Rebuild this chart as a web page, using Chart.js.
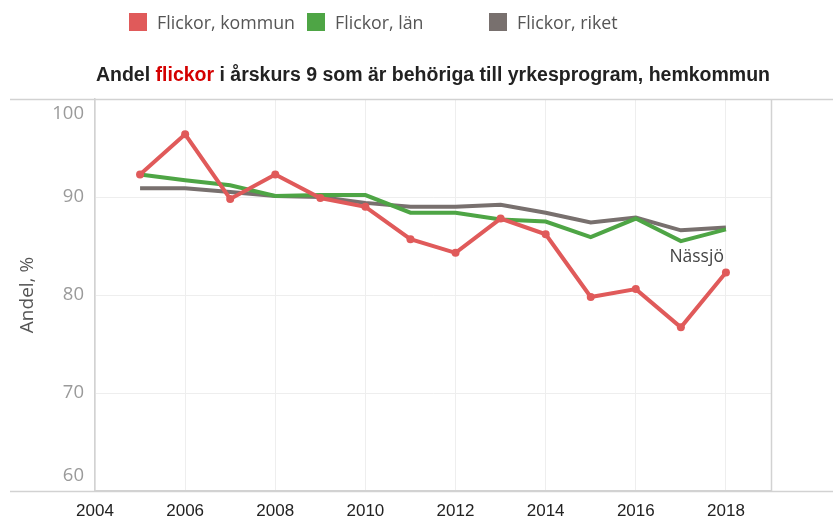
<!DOCTYPE html>
<html>
<head>
<meta charset="utf-8">
<script src="https://cdn.jsdelivr.net/npm/chart.js@4/dist/chart.umd.min.js"></script>
<style>
  html, body { margin: 0; padding: 0; background: #fff; }
  #wrap { position: relative; width: 833px; height: 522px; overflow: hidden; }
  #c { position: absolute; left: 0; top: 0; }
  .leg { position: absolute; top: 12px; font-family: "Open Sans", sans-serif; font-size: 17.8px; color: #555; line-height: 20px; white-space: nowrap; }
  .leg i { display: inline-block; width: 18px; height: 18px; vertical-align: top; margin-top: 1px; margin-right: 10px; }
  #title { position: absolute; left: 95px; width: 676px; top: 63px; text-align: center; font-family: "Liberation Sans", Arial, sans-serif; font-weight: bold; font-size: 19.5px; color: #222; white-space: nowrap; }
  #title span { color: #d40000; }
</style>
</head>
<body>
<div id="wrap">
  <canvas id="c" width="833" height="522"></canvas>
  <div class="leg" style="left:129px"><i style="background:#e05a5a"></i>Flickor, kommun</div>
  <div class="leg" style="left:307px"><i style="background:#4ea545"></i>Flickor, län</div>
  <div class="leg" style="left:489px"><i style="background:#78706e"></i>Flickor, riket</div>
  <div id="title">Andel <span>flickor</span> i årskurs 9 som är behöriga till yrkesprogram, hemkommun</div>
</div>
<script>
const years = [2005, 2006, 2007, 2008, 2009, 2010, 2011, 2012, 2013, 2014, 2015, 2016, 2017, 2018];
const kommun = [92.3, 96.4, 89.8, 92.3, 89.9, 89.0, 85.7, 84.3, 87.8, 86.2, 79.8, 80.6, 76.7, 82.3];
const lan    = [92.3, 91.7, 91.2, 90.1, 90.2, 90.2, 88.4, 88.4, 87.7, 87.5, 85.9, 87.8, 85.5, 86.7];
const riket  = [90.9, 90.9, 90.5, 90.1, 90.0, 89.4, 89.0, 89.0, 89.2, 88.4, 87.4, 87.9, 86.6, 86.9];
const xTicks = [2004, 2006, 2008, 2010, 2012, 2014, 2016, 2018];
const yTicks = [60, 70, 80, 90, 100];

const toXY = arr => arr.map((v, i) => ({ x: years[i], y: v }));

const framePlugin = {
  id: 'frame',
  afterDraw(chart) {
    const { ctx, chartArea: a } = chart;
    ctx.save();
    ctx.strokeStyle = '#d2d2d2';
    ctx.lineWidth = 1.5;
    ctx.beginPath();
    ctx.moveTo(10, a.top + 0.5); ctx.lineTo(833, a.top + 0.5);
    ctx.moveTo(10, a.bottom + 0.5); ctx.lineTo(833, a.bottom + 0.5);
    ctx.moveTo(a.right + 0.5, a.top); ctx.lineTo(a.right + 0.5, a.bottom);
    ctx.stroke();
    const xs = chart.scales.x, ys = chart.scales.y;
    ctx.fillStyle = '#444';
    ctx.font = '17.5px "Open Sans", sans-serif';
    ctx.textAlign = 'center';
    ctx.textBaseline = 'middle';
    const last = years.length - 1;
    ctx.fillText('Nässjö', xs.getPixelForValue(years[last] - 0.65), ys.getPixelForValue((lan[last] + kommun[last]) / 2 - 0.65));
    ctx.restore();
  }
};

new Chart(document.getElementById('c'), {
  type: 'line',
  data: {
    datasets: [
      { label: 'Flickor, kommun', data: toXY(kommun), borderColor: '#e05a5a', backgroundColor: '#e05a5a',
        borderWidth: 4, pointRadius: 4, pointBorderWidth: 0, pointBackgroundColor: '#e05a5a', tension: 0 },
      { label: 'Flickor, län', data: toXY(lan), borderColor: '#4ea545', backgroundColor: '#4ea545',
        borderWidth: 4, pointRadius: 0, tension: 0 },
      { label: 'Flickor, riket', data: toXY(riket), borderColor: '#78706e', backgroundColor: '#78706e',
        borderWidth: 4, pointRadius: 0, tension: 0 }
    ]
  },
  options: {
    responsive: false,
    animation: false,
    layout: { padding: { top: 99, right: 62, left: 0, bottom: 0 } },
    plugins: { legend: { display: false }, tooltip: { enabled: false }, title: { display: false } },
    scales: {
      x: {
        type: 'linear', min: 2004, max: 2019,
        afterBuildTicks: s => { s.ticks = xTicks.map(v => ({ value: v })); },
        afterFit: s => { s.height = 31; s.paddingLeft = 0; s.paddingRight = 0; },
        grid: { color: '#eeeeee', lineWidth: 1, drawTicks: false },
        border: { display: true, color: '#d2d2d2', width: 1.5 },
        ticks: { color: '#222', padding: 10, maxRotation: 0, autoSkip: false,
          font: { family: '"Liberation Sans Narrow", "Arial Narrow", "Liberation Sans", sans-serif', size: 17 },
          callback: v => String(v) }
      },
      y: {
        min: 60, max: 100,
        afterBuildTicks: s => { s.ticks = yTicks.map(v => ({ value: v })); },
        afterFit: s => { s.width = 95; s.paddingTop = 0; s.paddingBottom = 0; },
        grid: { color: '#eeeeee', lineWidth: 1, drawTicks: false },
        border: { display: true, color: '#d2d2d2', width: 1.5 },
        ticks: { color: '#9a9a9a', padding: 11,
          font: { family: '"Open Sans", sans-serif', size: 18.5, lineHeight: 1.6 },
          callback: v => v === 100 ? ['', String(v)] : (v === 60 ? [String(v), ''] : String(v)) },
        title: { display: true, text: 'Andel, %', color: '#555', padding: { top: 16, bottom: 0 },
          font: { family: '"Open Sans", sans-serif', size: 19 } }
      }
    }
  },
  plugins: [framePlugin]
});
</script>
</body>
</html>
